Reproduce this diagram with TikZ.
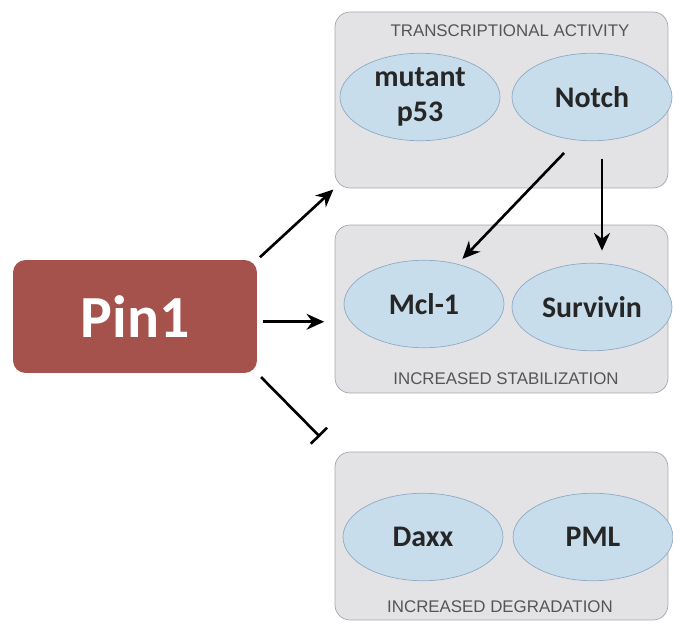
\documentclass[tikz,border=0pt]{standalone}
\usepackage{fontspec}
\setsansfont{Liberation Sans}
\newfontfamily\calfont{Carlito}
\usepackage{tikz}
\usetikzlibrary{arrows.meta,calc,positioning,shapes.geometric}
\definecolor{pinred}{HTML}{A5524C}
\definecolor{panelgray}{HTML}{E3E3E6}
\definecolor{paneledge}{HTML}{A2A6AE}
\definecolor{ovalblue}{HTML}{C8DDEC}
\definecolor{ovaledge}{HTML}{8FAAC4}
\definecolor{labelgray}{HTML}{555555}

\begin{document}
\begin{tikzpicture}[x=0.02cm,y=-0.02cm,
    panel/.style={draw=paneledge,fill=panelgray,rounded corners=0.3cm,minimum width=6.66cm,inner sep=0pt},
    oval/.style={ellipse,draw=ovaledge,fill=ovalblue,minimum width=3.2cm,minimum height=1.75cm,inner sep=0pt,
      font=\calfont\bfseries\fontsize{17}{20}\selectfont,text=black!85,align=center},
    tag/.style={font=\sffamily\fontsize{9.6}{11}\selectfont,text=labelgray},
    arr/.style={-{Stealth[length=10pt,width=9pt]},line width=1.5pt},
    blk/.style={-{Bar[width=13pt]},line width=1.5pt}]
  \useasboundingbox (0,0) rectangle (673,625);
  % panels
  \node[panel,minimum height=3.52cm] (trans) at (501.5,100) {};
  \node[panel,minimum height=3.36cm] (stab) at (501.5,309) {};
  \node[panel,minimum height=3.36cm] (degr) at (501.5,536) {};
  \node[tag] (transtag) at (510,31) {TRANSCRIPTIONAL ACTIVITY};
  \node[tag] (stabtag) at (506,379) {INCREASED STABILIZATION};
  \node[tag] (degrtag) at (500,607) {INCREASED DEGRADATION};
  % proteins
  \node[oval] (p53) at (420,97) {mutant\\p53};
  \node[oval] (notch) at (592,97) {Notch};
  \node[oval] (mcl) at (424,304) {Mcl-1};
  \node[oval] (surv) at (592,307) {Survivin};
  \node[oval] (daxx) at (423,537) {Daxx};
  \node[oval] (pml) at (593,537) {PML};
  % Pin1
  \node[fill=pinred,rounded corners=0.25cm,minimum width=4.88cm,minimum height=2.26cm,
    font=\calfont\bfseries\fontsize{34}{36}\selectfont,text=white] (pin) at (135,316.5) {Pin1};
  % links
  \draw[arr,shorten <=2pt,shorten >=1pt] (pin.north east) -- (trans.south west);
  \draw[arr,shorten <=3pt,shorten >=6pt] ([yshift=-3pt]pin.east) -- ([yshift=-3pt]pin.east -| stab.west);
  \draw[blk,shorten <=3pt,shorten >=12pt] (pin.south east) -- (degr.north west);
  \draw[arr,shorten <=10pt,shorten >=4pt] (notch.250) -- (mcl.50);
  \draw[arr,shorten <=10pt,shorten >=7pt] ([xshift=0.2cm]notch.south) -- ([xshift=0.2cm]surv.north);
\end{tikzpicture}
\end{document}
